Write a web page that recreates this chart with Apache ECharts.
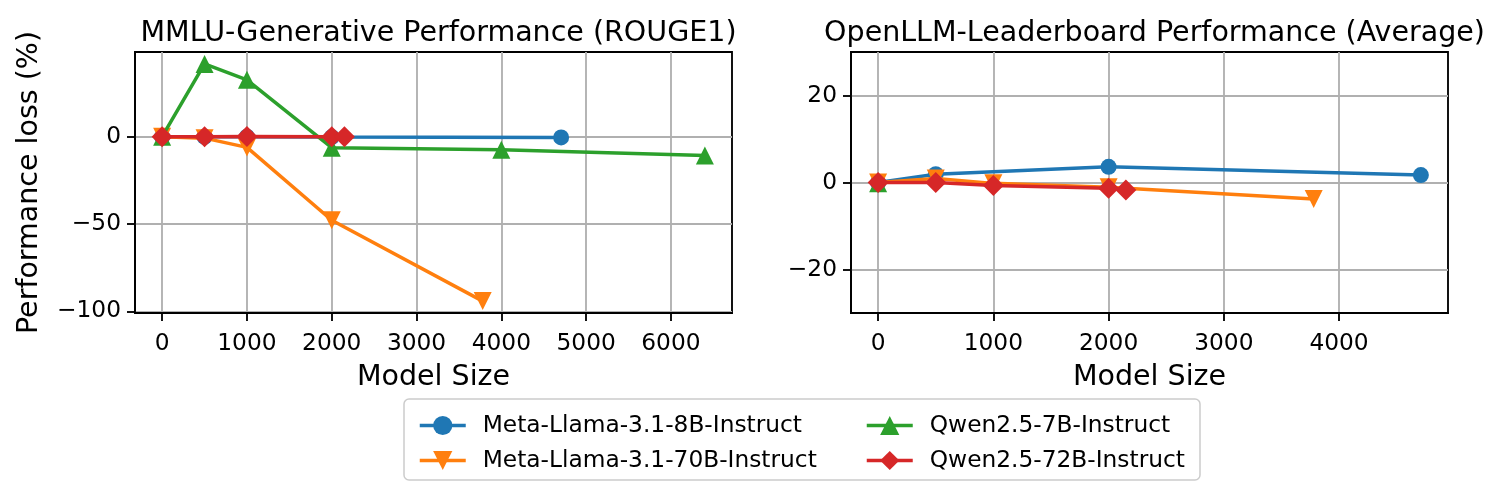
<!DOCTYPE html>
<html>
<head>
<meta charset="utf-8">
<script src="https://cdn.jsdelivr.net/npm/echarts@6/dist/echarts.min.js"></script>
<style>
html,body{margin:0;padding:0;background:#fff;}
#chart{width:1494px;height:497px;}
</style>
</head>
<body>
<div id="chart"></div>
<script>
// ---- Data ----
const seriesNames = ['Meta-Llama-3.1-8B-Instruct', 'Meta-Llama-3.1-70B-Instruct', 'Qwen2.5-7B-Instruct', 'Qwen2.5-72B-Instruct'];
const panelTitles = ['MMLU-Generative Performance (ROUGE1)', 'OpenLLM-Leaderboard Performance (Average)'];

// Left panel: MMLU-Generative (ROUGE1)
const mmluLlama8bX = [0, 500, 1000, 2000, 4705];
const mmluLlama8bY = [0, 0, 0, -0.2, -0.4];
const mmluLlama70bX = [0, 500, 1000, 2000, 3780];
const mmluLlama70bY = [0, -0.8, -6.1, -47.8, -94.1];
const mmluQwen7bX = [0, 500, 1000, 2000, 4000, 6400];
const mmluQwen7bY = [0, 41.7, 32.6, -6.3, -7.5, -10.7];
const mmluQwen72bX = [0, 500, 1000, 2000, 2150];
const mmluQwen72bY = [0, 0, 0.2, 0, 0];

// Right panel: OpenLLM-Leaderboard (Average)
const openLlama8bX = [0, 500, 2000, 4710];
const openLlama8bY = [0, 1.9, 3.6, 1.7];
const openLlama70bX = [0, 500, 1000, 2000, 3780];
const openLlama70bY = [0, 0.9, -0.2, -1.1, -3.8];
const openQwen7bX = [0];
const openQwen7bY = [-0.2];
const openQwen72bX = [0, 500, 1000, 2000, 2150];
const openQwen72bY = [0, 0, -0.7, -1.3, -1.7];

// Tick values
const leftXTicks = [0, 1000, 2000, 3000, 4000, 5000, 6000];
const leftYTicks = [-100, -50, 0];
const rightXTicks = [0, 1000, 2000, 3000, 4000];
const rightYTicks = [-20, 0, 20];

// ---- Styling ----
const colors = ['#1f77b4', '#ff7f0e', '#2ca02c', '#d62728'];
const symbols = ['circle', 'triangle', 'triangle', 'diamond'];
const symbolRotates = [0, 180, 0, 0];
const symbolSizes = [16, 18, 18, 21];
const FONT = 'DejaVu Sans';
const tickFs = 23.3, labelFs = 28.5;
const spineW = 1.85;
const lineW = 3.5;

function zip(xs, ys) { return xs.map((x, i) => [x, ys[i]]); }
const fmt = v => String(v).replace('-', '\u2212');

const panels = [
  [[mmluLlama8bX, mmluLlama8bY], [mmluLlama70bX, mmluLlama70bY], [mmluQwen7bX, mmluQwen7bY], [mmluQwen72bX, mmluQwen72bY]],
  [[openLlama8bX, openLlama8bY], [openLlama70bX, openLlama70bY], [openQwen7bX, openQwen7bY], [openQwen72bX, openQwen72bY]]
];

const series = [];
panels.forEach((panel, p) => {
  panel.forEach((d, i) => {
    series.push({
      name: seriesNames[i], type: 'line', xAxisIndex: p, yAxisIndex: p,
      data: zip(d[0], d[1]),
      symbol: symbols[i], symbolSize: symbolSizes[i], symbolRotate: symbolRotates[i],
      showAllSymbol: true, clip: false,
      lineStyle: { width: lineW, color: colors[i] },
      itemStyle: { color: colors[i] },
      z: 2 + i, silent: true
    });
  });
});

function xAxis(idx, min, max, ticks) {
  return {
    type: 'value', gridIndex: idx, min: min, max: max,
    axisLine: { show: true, onZero: false, lineStyle: { color: '#000', width: spineW } },
    axisTick: { show: true, customValues: ticks, length: 8, inside: false, lineStyle: { color: '#000', width: spineW } },
    axisLabel: { customValues: ticks, margin: 19, fontSize: tickFs, color: '#000', fontFamily: FONT, formatter: fmt },
    splitLine: { show: true, lineStyle: { color: '#b0b0b0', width: spineW } },
    name: 'Model Size', nameLocation: 'middle', nameGap: 50,
    nameTextStyle: { fontSize: labelFs, color: '#000', fontFamily: FONT }
  };
}
function yAxis(idx, min, max, ticks, name) {
  return {
    type: 'value', gridIndex: idx, min: min, max: max,
    axisLine: { show: true, onZero: false, lineStyle: { color: '#000', width: spineW } },
    axisTick: { show: true, customValues: ticks, length: 8, inside: false, lineStyle: { color: '#000', width: spineW } },
    axisLabel: { customValues: ticks, margin: 14, fontSize: tickFs, color: '#000', fontFamily: FONT, formatter: fmt },
    splitLine: { show: true, lineStyle: { color: '#b0b0b0', width: spineW } },
    name: name || '', nameLocation: 'middle', nameGap: 91, nameRotate: 90,
    nameTextStyle: { fontSize: labelFs, color: '#000', fontFamily: FONT }
  };
}

const legendCommon = {
  orient: 'vertical', itemWidth: 46, itemHeight: 24, itemGap: 12,
  symbolRotate: 'inherit',
  lineStyle: { width: lineW },
  textStyle: { fontSize: tickFs, color: '#000', fontFamily: FONT, padding: [0, 0, 0, 12] },
  selectedMode: false
};

const option = {
  animation: false,
  backgroundColor: '#fff',
  textStyle: { fontFamily: FONT },
  title: [
    { text: panelTitles[0], left: 433.5, top: 14, textAlign: 'center', textStyle: { fontSize: labelFs, fontWeight: 'normal', color: '#000', fontFamily: FONT } },
    { text: panelTitles[1], left: 1149.5, top: 14, textAlign: 'center', textStyle: { fontSize: labelFs, fontWeight: 'normal', color: '#000', fontFamily: FONT } }
  ],
  grid: [
    { left: 135, top: 52, width: 597, height: 261, show: true, borderColor: '#000', borderWidth: spineW, backgroundColor: 'transparent' },
    { left: 851, top: 52, width: 597, height: 261, show: true, borderColor: '#000', borderWidth: spineW, backgroundColor: 'transparent' }
  ],
  xAxis: [ xAxis(0, -320, 6720, leftXTicks), xAxis(1, -235.5, 4945.5, rightXTicks) ],
  yAxis: [ yAxis(0, -100.9, 48.5, leftYTicks, 'Performance loss (%)'), yAxis(1, -30, 30, rightYTicks, '') ],
  legend: [
    Object.assign({ data: [seriesNames[0], seriesNames[1]], left: 413, top: 409 }, legendCommon),
    Object.assign({ data: [seriesNames[2], seriesNames[3]], left: 860, top: 409 }, legendCommon)
  ],
  graphic: [
    { type: 'rect', z: 0, shape: { x: 404, y: 399, width: 796, height: 81, r: 5 },
      style: { fill: 'rgba(255,255,255,0.8)', stroke: '#cccccc', lineWidth: 1.5 } }
  ],
  series: series
};

const chart = echarts.init(document.getElementById('chart'), null, { renderer: 'canvas' });
chart.setOption(option);
</script>
</body>
</html>
